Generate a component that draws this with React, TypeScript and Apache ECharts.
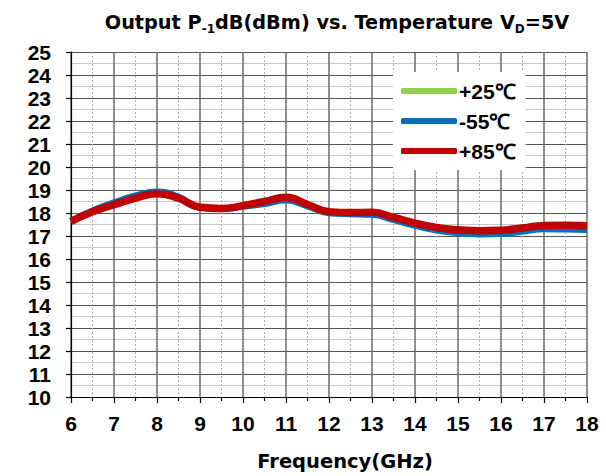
import React, { useEffect, useRef } from "react";
import * as echarts from "echarts";

const freq = [6, 6.5, 7, 7.5, 8, 8.5, 9, 9.5, 10, 10.5, 11, 11.5, 12, 12.5, 13, 13.5, 14, 14.5, 15, 15.5, 16, 16.5, 17, 17.5, 18];
const p25 = [17.64, 18.08, 18.4, 18.7, 18.88, 18.66, 18.25, 18.2, 18.3, 18.45, 18.62, 18.34, 18.03, 17.99, 17.98, 17.76, 17.5, 17.31, 17.2, 17.15, 17.17, 17.27, 17.38, 17.38, 17.36];
const m55 = [17.65, 18.1, 18.45, 18.75, 18.92, 18.7, 18.24, 18.18, 18.28, 18.4, 18.55, 18.3, 18.0, 17.96, 17.93, 17.7, 17.45, 17.25, 17.13, 17.08, 17.1, 17.2, 17.3, 17.29, 17.27];
const p85 = [17.63, 18.05, 18.36, 18.65, 18.84, 18.64, 18.25, 18.2, 18.32, 18.5, 18.68, 18.37, 18.06, 18.02, 18.03, 17.81, 17.56, 17.37, 17.27, 17.23, 17.25, 17.35, 17.46, 17.47, 17.45];
const seriesNames = ["+25\u2103", "-55\u2103", "+85\u2103"];
const seriesColors = ["#92d050", "#0070c0", "#c00000"];

const labelFont = "'Liberation Sans', Arial, sans-serif";

export default function App() {
  const ref = useRef<HTMLDivElement>(null);
  useEffect(() => {
    const chart = echarts.init(ref.current!, null, { renderer: "svg" });
    const pairs = (ys: number[]) => freq.map((x, i) => [x, ys[i]]);
    const all = [p25, m55, p85];
    chart.setOption({
      animation: false,
      backgroundColor: "#fff",
      title: {
        text: "Output P{sub|-1}dB(dBm) vs. Temperature V{sub|D}=5V",
        left: 332,
        textAlign: "center",
        top: 5,
        textStyle: {
          fontFamily: "DejaVu Sans",
          fontWeight: "bold",
          fontSize: 19.3,
          color: "#000",
          rich: {
            sub: { fontFamily: "DejaVu Sans", fontWeight: "bold", fontSize: 12, color: "#000", padding: [13, 0, 0, 0] },
          },
        },
      },
      grid: { left: 71, right: 19, top: 52, bottom: 76 },
      legend: {
        left: 393,
        top: 72,
        orient: "vertical",
        backgroundColor: "#fff",
        padding: [8, 10, 8, 8],
        itemGap: 8,
        itemWidth: 56,
        itemHeight: 6,
        icon: "roundRect",
        data: [seriesNames[0], seriesNames[1], seriesNames[2]],
        textStyle: { fontFamily: labelFont, fontWeight: "bold", fontSize: 21, lineHeight: 22, color: "#000", padding: [0, 0, 0, -3] },
      },
      xAxis: {
        type: "value",
        min: 6,
        max: 18,
        interval: 1,
        name: "Frequency(GHz)",
        nameLocation: "middle",
        nameGap: 54,
        nameTextStyle: { fontFamily: "DejaVu Sans", fontWeight: "bold", fontSize: 19.5, color: "#000", padding: [0, 0, 0, 32] },
        axisLine: { onZero: false, lineStyle: { color: "#000", width: 1.2 } },
        axisTick: { show: true, length: 6, inside: false, lineStyle: { color: "#000", width: 1.2 } },
        minorTick: { show: true, splitNumber: 2, length: 4, lineStyle: { color: "#000", width: 1.2 } },
        axisLabel: { fontFamily: labelFont, fontWeight: "bold", fontSize: 21, color: "#000", margin: 16 },
        splitLine: { show: true, lineStyle: { color: "#6a6a6a", width: 1.5 } },
        minorSplitLine: { show: true, lineStyle: { color: "#b0b0b0", width: 1, type: [2, 2] } },
      },
      yAxis: {
        type: "value",
        min: 10,
        max: 25,
        interval: 1,
        axisLine: { onZero: false, lineStyle: { color: "#000", width: 1.2 } },
        axisTick: { show: true, length: 5, lineStyle: { color: "#000", width: 1.2 } },
        minorTick: { show: false, splitNumber: 2 },
        axisLabel: { fontFamily: labelFont, fontWeight: "bold", fontSize: 21, color: "#000", margin: 20 },
        splitLine: { show: true, lineStyle: { color: "#555", width: 1.2 } },
        minorSplitLine: { show: true, lineStyle: { color: "#c8c8c8", width: 1.2 } },
      },
      series: seriesNames.map((name, i) => ({
        name,
        type: "line",
        data: pairs(all[i]),
        smooth: 0.5,
        symbol: "none",
        color: seriesColors[i],
        lineStyle: { color: seriesColors[i], width: i === 2 ? 7.5 : 6.5 },
        z: 3 + i,
      })),
    });
    return () => chart.dispose();
  }, []);
  return <div ref={ref} style={{ width: 606, height: 476, position: "absolute", left: 0, top: 0 }} />;
}
